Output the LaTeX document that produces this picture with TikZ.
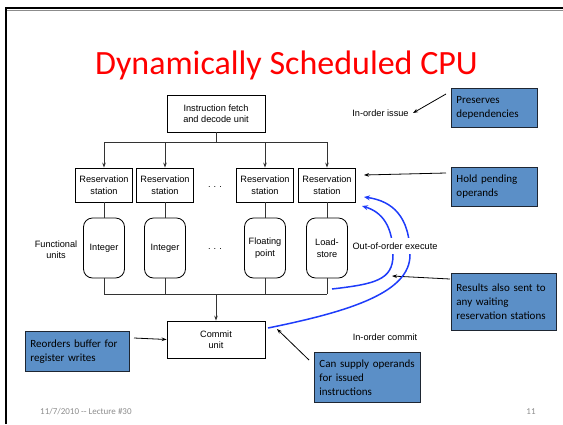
\documentclass[tikz,border=0pt]{standalone}
\usepackage{fontspec}
\setmainfont{Liberation Sans}
\newfontfamily\calfont{Carlito}
\usetikzlibrary{arrows.meta}
\definecolor{callfill}{RGB}{91,143,199}
\definecolor{callborder}{RGB}{30,38,50}
\definecolor{curveblue}{RGB}{30,60,250}
\definecolor{titlered}{RGB}{255,0,0}
\definecolor{footgray}{RGB}{140,140,140}
\begin{document}
\begin{tikzpicture}[x=1pt,y=-1pt,
  box/.style={draw=black,line width=0.8pt,minimum width=98pt,minimum height=37pt,align=center,inner sep=0pt,font=\fontsize{9.2}{11.5}\selectfont},
  rsbox/.style={box,minimum width=57pt,minimum height=34pt},
  fubox/.style={box,minimum width=41pt,minimum height=60pt,rounded corners=9pt},
  plain/.style={inner sep=0pt,align=center,font=\fontsize{9.2}{11}\selectfont},
  callout/.style={draw=callborder,fill=callfill,line width=0.9pt,align=left,anchor=north west,inner xsep=5pt,inner ysep=0pt,text=black,font=\calfont\fontsize{11}{14}\selectfont},
  conn/.style={draw=black!80,line width=0.8pt},
  arr/.style={-{Stealth[length=5pt,width=3.6pt]}},
  bluecurve/.style={draw=curveblue,line width=1.5pt,-{Stealth[length=6pt,width=5pt]}}
]
\useasboundingbox (0,0) rectangle (563,424);
% frame
\draw[black!45,line width=1.2pt] (7,10.6) -- (563,10.6);
\draw[black,line width=2pt] (6,424) -- (6,8.3) -- (563,8.3);

% title
\node[font=\calfont\fontsize{34}{40}\selectfont,text=titlered,inner sep=0pt,anchor=base] (title) at (286.5,74) {Dynamically Scheduled CPU};

% main blocks
\node[box] (fetch) at (216,113.5) {Instruction fetch\\and decode unit};
\node[box] (commit) at (216,339.5) {Commit\\unit};

\node[rsbox] (rs1) at (104,185) {Reservation\\station};
\node[rsbox] (rs2) at (165,185) {Reservation\\station};
\node[rsbox] (rs3) at (265,185) {Reservation\\station};
\node[rsbox] (rs4) at (327,185) {Reservation\\station};

\node[fubox] (fu1) at (104,248) {Integer};
\node[fubox] (fu2) at (165,248) {Integer};
\node[fubox] (fu3) at (265,248) {Floating\\point};
\node[fubox] (fu4) at (327,248) {Load-\\store};

\node[plain] (dots1) at (215,187) {.\hspace{3pt}.\hspace{3pt}.};
\node[plain] (dots2) at (215,249) {.\hspace{3pt}.\hspace{3pt}.};

\node[plain] (funits) at (56,250) {Functional\\units};
\node[plain] (issue) at (380.5,113) {In-order issue};
\node[plain] (incommit) at (385,337) {In-order commit};

% buses
\coordinate (topbus) at (216,142);
\coordinate (botbus) at (216,294);
\draw[conn] (fetch.south) -- (topbus);
\draw[conn] (rs1.north |- topbus) -- (rs4.north |- topbus);
\draw[conn] (fu1.south |- botbus) -- (fu4.south |- botbus);
\foreach \i in {1,2,3,4}{
  \draw[conn,arr] (rs\i.north |- topbus) -- (rs\i.north);
  \draw[conn] (rs\i.south) -- (fu\i.north);
  \draw[conn] (fu\i.south) -- (fu\i.south |- botbus);
}
\draw[conn,arr] (botbus) -- (commit.north);

% callouts
\node[callout,text width=76pt,minimum height=39pt] (pres) at (451,88) {\color{black}Preserves\\\color{black}dependencies};
\node[callout,text width=76pt,minimum height=39pt] (hold) at (451,167) {\color{black}Hold pending\\\color{black}operands};
\node[callout,text width=95pt,minimum height=57pt] (results) at (451,273) {\color{black}Results also sent to\\\color{black}any waiting\\\color{black}reservation stations};
\node[callout,text width=94pt,minimum height=40pt] (reorder) at (25,331) {\color{black}Reorders buffer for\\\color{black}register writes};
\node[callout,text width=96pt,minimum height=50pt] (supply) at (314,352) {\color{black}Can supply operands\\\color{black}for issued\\\color{black}instructions};

% callout arrows
\coordinate (prestail) at (446,94);
\coordinate (prestip) at (413,113);
\coordinate (holdtail) at (446,173);
\coordinate (holdtip) at (364,175);
\coordinate (restail) at (450,279);
\coordinate (restip) at (392,276);
\coordinate (reotail) at (134,338);
\coordinate (suptail) at (309,360);
\coordinate (suptip) at (277,329);
\draw[black,line width=0.8pt,arr] (prestail) -- (prestip);
\draw[black,line width=0.8pt,arr] (holdtail) -- (holdtip);
\draw[black,line width=0.8pt,arr] (restail) -- (restip);
\draw[black,line width=0.8pt,arr] (reotail) -- (commit.west);
\draw[black,line width=0.8pt,arr] (suptail) -- (suptip);

% blue forwarding curves
\coordinate (c1start) at (332,289);
\coordinate (c1mid) at (393,255);
\coordinate (c1end) at (362,206);
\coordinate (c2start) at (268,328);
\coordinate (c2mid) at (410,255);
\coordinate (c2end) at (364,197);
\draw[bluecurve] (c1start) .. controls (375,284) and (393,280) .. (c1mid) .. controls (393,226) and (382,212) .. (c1end);
\draw[bluecurve] (c2start) .. controls (352,311) and (410,292) .. (c2mid) .. controls (410,216) and (392,201) .. (c2end);

% label over the curves
\node[plain,fill=white,inner xsep=1pt,inner ysep=5pt] (ooo) at (395,246) {Out-of-order execute};

% footer
\node[font=\calfont\fontsize{9}{11}\selectfont,text=footgray,inner sep=0pt,anchor=west] (foot) at (40,412) {11/7/2010 -- Lecture \#30};
\node[font=\calfont\fontsize{9}{11}\selectfont,text=footgray,inner sep=0pt] (pagenum) at (531,412) {11};
\end{tikzpicture}
\end{document}
